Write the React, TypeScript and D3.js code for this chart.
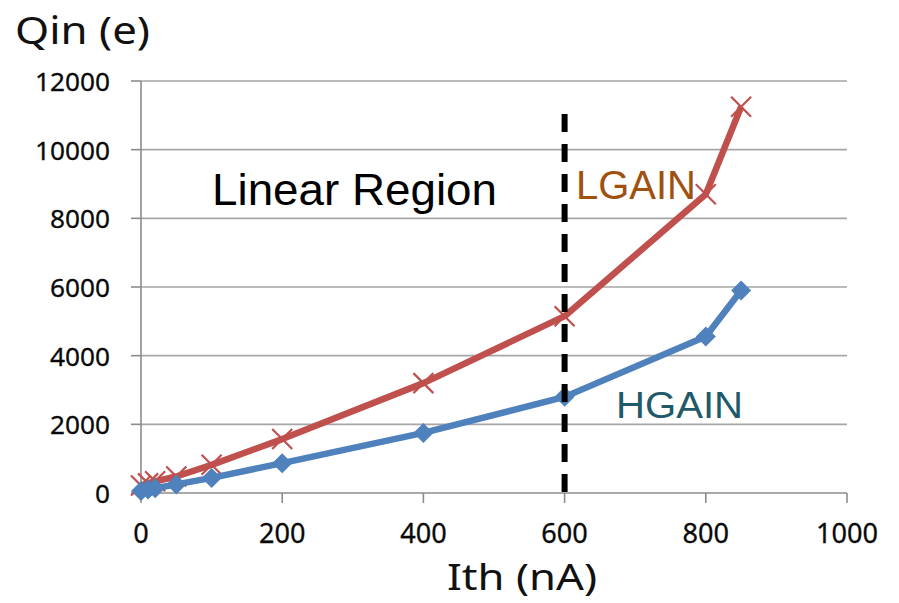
import React from "react";
import * as d3 from "d3";

const ithValues = [0, 10, 20, 50, 100, 200, 400, 600, 800, 850];
const hgainValues = [60, 100, 140, 250, 440, 870, 1750, 2800, 4560, 5900];
const lgainValues = [220, 280, 340, 480, 820, 1570, 3200, 5150, 8700, 11250];
const xTicks = [0, 200, 400, 600, 800, 1000];
const yTicks = [0, 2000, 4000, 6000, 8000, 10000, 12000];
const linearBoundary = 600;

const W = 899;
const H = 603;

export default function App() {
  const x = d3.scaleLinear().domain([0, 1000]).range([141, 847]);
  const y = d3.scaleLinear().domain([0, 12000]).range([493, 81]);
  const lineGen = d3
    .line<[number, number]>()
    .x((d) => x(d[0]))
    .y((d) => y(d[1]));
  const hPts: [number, number][] = ithValues.map((v, i) => [v, hgainValues[i]]);
  const lPts: [number, number][] = ithValues.map((v, i) => [v, lgainValues[i]]);
  const font = "'Noto Sans', 'Open Sans', sans-serif";
  const arial = "'Liberation Sans', Arial, sans-serif";

  return (
    <svg
      width={W}
      height={H}
      style={{ position: "absolute", left: 0, top: 0, background: "#fff" }}
    >
      {/* gridlines */}
      {yTicks.map((t) =>
        t === 0 ? null : (
          <line
            key={"g" + t}
            x1={x(0)}
            x2={x(1000)}
            y1={y(t)}
            y2={y(t)}
            stroke="#a6a6a6"
            strokeWidth={1.6}
          />
        )
      )}
      {/* y axis */}
      <line x1={x(0)} x2={x(0)} y1={y(12000)} y2={y(0)} stroke="#8c8c8c" strokeWidth={1.6} />
      {yTicks.map((t) => (
        <g key={"yt" + t}>
          <line x1={x(0) - 10} x2={x(0)} y1={y(t)} y2={y(t)} stroke="#8c8c8c" strokeWidth={1.6} />
          <text
            x={110}
            y={y(t)}
            textAnchor="end"
            dominantBaseline="central"
            fontFamily={font}
            fontSize={26}
            fill="#0a0a0a"
            stroke="#0a0a0a"
            strokeWidth={0.3}
            textLength={String(t).length * 15}
            lengthAdjust="spacingAndGlyphs"
          >
            {t}
          </text>
        </g>
      ))}
      {/* x axis */}
      <line x1={x(0)} x2={x(1000)} y1={y(0)} y2={y(0)} stroke="#8c8c8c" strokeWidth={1.6} />
      {xTicks.map((t) => (
        <g key={"xt" + t}>
          <line x1={x(t)} x2={x(t)} y1={y(0)} y2={y(0) + 10} stroke="#8c8c8c" strokeWidth={1.6} />
          <text
            x={x(t)}
            y={543}
            textAnchor="middle"
            fontFamily={font}
            fontSize={27}
            fill="#0a0a0a"
            stroke="#0a0a0a"
            strokeWidth={0.3}
            textLength={String(t).length * 15.5}
            lengthAdjust="spacingAndGlyphs"
          >
            {t}
          </text>
        </g>
      ))}
      {/* axis titles */}
      <text
        x={15}
        y={44}
        fontFamily={font}
        fontSize={39}
        fill="#111"
        textLength={135}
        lengthAdjust="spacingAndGlyphs"
      >
        Qin (e)
      </text>
      <text
        x={447}
        y={590}
        fontFamily={font}
        fontSize={36}
        fill="#111"
        textLength={150}
        lengthAdjust="spacingAndGlyphs"
      >
        Ith (nA)
      </text>

      {/* series: LGAIN */}
      <path d={lineGen(lPts) || ""} fill="none" stroke="#c0504d" strokeWidth={6.5} strokeLinejoin="round" />
      {lPts.map((p, i) => {
        const cx = x(p[0]);
        const cy = y(p[1]);
        const s = 10;
        return (
          <path
            key={"lm" + i}
            d={`M${cx - s},${cy - s}L${cx + s},${cy + s}M${cx - s},${cy + s}L${cx + s},${cy - s}`}
            stroke="#c0504d"
            strokeWidth={2.2}
          />
        );
      })}

      {/* series: HGAIN */}
      <path d={lineGen(hPts) || ""} fill="none" stroke="#4f81bd" strokeWidth={6.5} strokeLinejoin="round" />
      {hPts.map((p, i) => {
        const cx = x(p[0]);
        const cy = y(p[1]);
        const s = 10;
        return (
          <path
            key={"hm" + i}
            d={`M${cx},${cy - s}L${cx + s},${cy}L${cx},${cy + s}L${cx - s},${cy}Z`}
            fill="#4f81bd"
          />
        );
      })}

      {/* linear region boundary */}
      <line
        x1={x(linearBoundary)}
        x2={x(linearBoundary)}
        y1={114}
        y2={y(0)}
        stroke="#000"
        strokeWidth={6}
        strokeDasharray="18 12"
      />

      {/* annotations */}
      <text
        x={212}
        y={205}
        fontFamily={arial}
        fontSize={44}
        fill="#000"
        textLength={285}
        lengthAdjust="spacingAndGlyphs"
      >
        Linear Region
      </text>
      <text
        x={576}
        y={199}
        fontFamily={arial}
        fontSize={40}
        fill="#a0500f"
        textLength={120}
        lengthAdjust="spacingAndGlyphs"
      >
        LGAIN
      </text>
      <text
        x={616}
        y={418}
        fontFamily={arial}
        fontSize={37}
        fill="#1f5a6a"
        textLength={127}
        lengthAdjust="spacingAndGlyphs"
      >
        HGAIN
      </text>
    </svg>
  );
}
